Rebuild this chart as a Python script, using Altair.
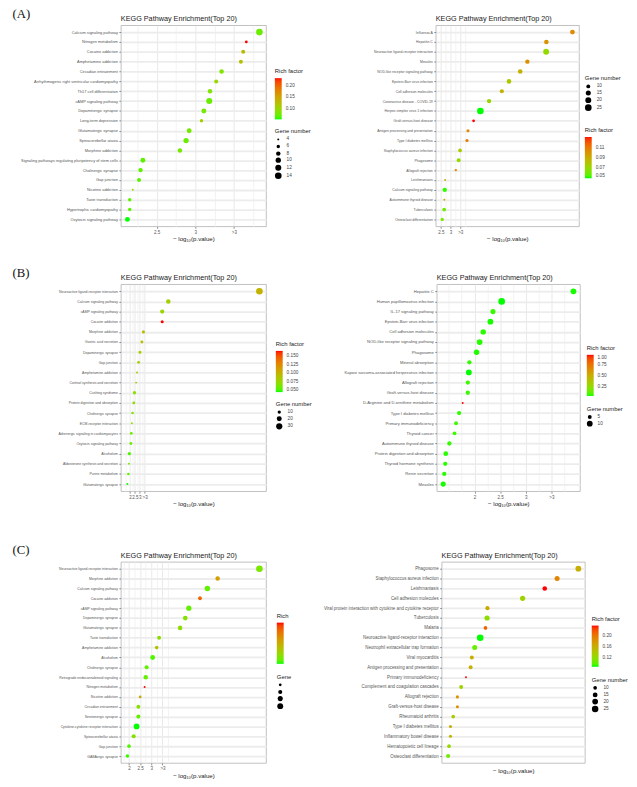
import altair as alt
import pandas as pd

# ---------------- (A) left ----------------
a1_path = ["Calcium signaling pathway", "Nitrogen metabolism", "Cocaine addiction", "Amphetamine addiction",
           "Circadian entrainment", "Arrhythmogenic right ventricular cardiomyopathy", "Th17 cell differentiation",
           "cAMP signaling pathway", "Dopaminergic synapse", "Long-term depression", "Glutamatergic synapse",
           "Spinocerebellar ataxia", "Morphine addiction", "Signaling pathways regulating pluripotency of stem cells",
           "Cholinergic synapse", "Gap junction", "Nicotine addiction", "Taste transduction",
           "Hypertrophic cardiomyopathy", "Oxytocin signaling pathway"]
a1_p = [3.83, 3.66, 3.62, 3.59, 3.34, 3.27, 3.19, 3.18, 3.11, 3.08, 2.92, 2.88, 2.80, 2.32, 2.29, 2.27, 2.19, 2.15, 2.15, 2.12]
a1_rich = [0.075, 0.234, 0.13, 0.125, 0.085, 0.10, 0.085, 0.075, 0.08, 0.11, 0.08, 0.075, 0.08, 0.07, 0.07, 0.07, 0.10, 0.07, 0.07, 0.055]
a1_gene = [14, 5, 7, 7, 8, 7, 8, 12, 9, 6, 9, 10, 8, 9, 8, 7, 4, 6, 6, 9]

# ---------------- (A) right ----------------
a2_path = ["Influenza A", "Hepatitis C", "Neuroactive ligand-receptor interaction", "Measles",
           "NOD-like receptor signaling pathway", "Epstein-Barr virus infection", "Cell adhesion molecules",
           "Coronavirus disease - COVID-19", "Herpes simplex virus 1 infection", "Graft-versus-host disease",
           "Antigen processing and presentation", "Type I diabetes mellitus", "Staphylococcus aureus infection",
           "Phagosome", "Allograft rejection", "Leishmaniasis", "Calcium signaling pathway",
           "Autoimmune thyroid disease", "Tuberculosis", "Osteoclast differentiation"]
a2_p = [9.3, 7.95, 7.94, 6.97, 6.6, 6.02, 5.65, 4.99, 4.54, 4.19, 3.9, 3.85, 3.49, 3.42, 3.27, 2.72, 2.7, 2.68, 2.67, 2.57]
a2_rich = [0.105, 0.102, 0.07, 0.103, 0.088, 0.078, 0.088, 0.072, 0.05, 0.133, 0.105, 0.112, 0.078, 0.07, 0.105, 0.09, 0.052, 0.09, 0.06, 0.062]
a2_gene = [14, 13, 20, 12, 13, 13, 11, 12, 25, 6, 7, 7, 9, 10, 5, 4, 12, 4, 9, 8]

# ---------------- (B) left ----------------
b1_path = ["Neuroactive ligand-receptor interaction", "Calcium signaling pathway", "cAMP signaling pathway",
           "Cocaine addiction", "Morphine addiction", "Gastric acid secretion", "Dopaminergic synapse", "Gap junction",
           "Amphetamine addiction", "Cortisol synthesis and secretion", "Cushing syndrome",
           "Protein digestion and absorption", "Cholinergic synapse", "ECM-receptor interaction",
           "Adrenergic signaling in cardiomyocytes", "Oxytocin signaling pathway", "Alcoholism",
           "Aldosterone synthesis and secretion", "Purine metabolism", "Glutamatergic synapse"]
b1_p = [15.38, 5.95, 5.32, 5.32, 3.38, 3.22, 3.02, 2.88, 2.72, 2.62, 2.45, 2.38, 2.25, 2.18, 2.12, 2.08, 1.92, 1.88, 1.82, 1.72]
b1_rich = [0.10, 0.08, 0.075, 0.165, 0.095, 0.092, 0.08, 0.08, 0.09, 0.088, 0.068, 0.07, 0.065, 0.07, 0.06, 0.06, 0.052, 0.062, 0.055, 0.045]
b1_gene = [34, 17, 15, 9, 9, 8, 9, 8, 5, 5, 10, 8, 7, 5, 8, 8, 10, 5, 7, 5]

# ---------------- (B) right ----------------
b2_path = ["Hepatitis C", "Human papillomavirus infection", "IL-17 signaling pathway", "Epstein-Barr virus infection",
           "Cell adhesion molecules", "NOD-like receptor signaling pathway", "Phagosome", "Mineral absorption",
           "Kaposi sarcoma-associated herpesvirus infection", "Allograft rejection", "Graft-versus-host disease",
           "D-Arginine and D-ornithine metabolism", "Type I diabetes mellitus", "Primary immunodeficiency",
           "Thyroid cancer", "Autoimmune thyroid disease", "Protein digestion and absorption",
           "Thyroid hormone synthesis", "Renin secretion", "Measles"]
b2_p = [3.93, 2.53, 2.36, 2.31, 2.17, 2.10, 2.04, 1.90, 1.89, 1.87, 1.87, 1.77, 1.70, 1.64, 1.61, 1.51, 1.44, 1.43, 1.41, 1.39]
b2_rich = [0.04, 0.035, 0.06, 0.04, 0.05, 0.05, 0.045, 0.06, 0.035, 0.07, 0.065, 1.0, 0.06, 0.07, 0.07, 0.06, 0.05, 0.05, 0.05, 0.04]
b2_gene = [10, 13, 8, 10, 9, 10, 9, 6, 10, 6, 6, 2, 6, 5, 5, 6, 7, 6, 6, 8]

# ---------------- (C) left ----------------
c1_path = ["Neuroactive ligand-receptor interaction", "Morphine addiction", "Calcium signaling pathway",
           "Cocaine addiction", "cAMP signaling pathway", "Dopaminergic synapse", "Glutamatergic synapse",
           "Taste transduction", "Amphetamine addiction", "Alcoholism", "Cholinergic synapse",
           "Retrograde endocannabinoid signaling", "Nitrogen metabolism", "Nicotine addiction",
           "Circadian entrainment", "Serotonergic synapse", "Cytokine-cytokine receptor interaction",
           "Spinocerebellar ataxia", "Gap junction", "GABAergic synapse"]
c1_p = [7.84, 5.97, 5.51, 5.18, 4.68, 4.52, 4.29, 3.35, 3.24, 3.06, 2.79, 2.75, 2.70, 2.50, 2.42, 2.42, 2.34, 2.21, 2.0, 1.93]
c1_rich = [0.085, 0.15, 0.075, 0.19, 0.075, 0.09, 0.095, 0.095, 0.12, 0.07, 0.075, 0.075, 0.22, 0.14, 0.09, 0.075, 0.06, 0.09, 0.07, 0.065]
c1_gene = [25, 12, 17, 9, 16, 13, 12, 9, 8, 14, 10, 12, 3, 5, 9, 10, 19, 10, 8, 8]

# ---------------- (C) right ----------------
c2_path = ["Phagosome", "Staphylococcus aureus infection", "Leishmaniasis", "Cell adhesion molecules",
           "Viral protein interaction with cytokine and cytokine receptor", "Tuberculosis", "Malaria",
           "Neuroactive ligand-receptor interaction", "Neutrophil extracellular trap formation", "Viral myocarditis",
           "Antigen processing and presentation", "Primary immunodeficiency", "Complement and coagulation cascades",
           "Allograft rejection", "Graft-versus-host disease", "Rheumatoid arthritis", "Type I diabetes mellitus",
           "Inflammatory bowel disease", "Hematopoietic cell lineage", "Osteoclast differentiation"]
c2_p = [14.0, 12.37, 11.42, 9.72, 7.02, 6.99, 6.87, 6.46, 6.04, 5.82, 5.73, 5.37, 5.0, 4.71, 4.71, 4.39, 4.18, 4.18, 4.07, 4.0]
c2_rich = [0.16, 0.19, 0.235, 0.13, 0.165, 0.12, 0.21, 0.09, 0.105, 0.16, 0.16, 0.235, 0.13, 0.18, 0.18, 0.135, 0.16, 0.155, 0.125, 0.11]
c2_gene = [20, 16, 14, 17, 12, 17, 10, 26, 16, 11, 11, 5, 11, 8, 8, 10, 8, 8, 10, 12]

TITLE = "KEGG Pathway Enrichment(Top 20)"
XTITLE = "\u2212 log\u2081\u2080(p.value)"
FONT = "Liberation Sans"


def label_expr(major):
    expr = "''"
    for v, lab in reversed(list(major.items())):
        expr = f"datum.value == {v} ? '{lab}' : ({expr})"
    return expr


def panel(paths, pvals, rich, genes, *, ylab, yext, major, minor, rich_vals, rich_fmt, gene_vals,
          cleg, gleg, height, width=148, rich_title="Rich factor", gene_title="Gene number", leg_labels=True,
          show_xaxis=True):
    df = pd.DataFrame({"path": paths, "p": pvals, "rich": rich, "gene": genes})
    lo, hi = min(pvals), max(pvals)
    pad = 0.05 * (hi - lo)
    maj_list = "[" + ",".join(str(v) for v in major) + "]"
    if show_xaxis:
        xaxis = alt.Axis(values=sorted(list(major) + list(minor)), labelExpr=label_expr(major),
                         grid=True,
                         gridColor={"condition": {"test": f"indexof({maj_list}, datum.value) >= 0",
                                                  "value": "#e3e3e3"}, "value": "#f0f0f0"},
                         gridWidth=0.8,
                         tickOpacity={"condition": {"test": f"indexof({maj_list}, datum.value) >= 0",
                                                    "value": 1}, "value": 0},
                         tickSize=2, tickColor="#444", tickWidth=0.6, domain=False,
                         labelFontSize=4.6, labelColor="#555", labelPadding=1, labelFont=FONT,
                         titleFontSize=6.2, titleFontWeight="normal", titleColor="#222", titlePadding=2,
                         titleFont=FONT)
    else:
        xaxis = alt.Axis(grid=False, ticks=False, labels=False, domain=False,
                         titleFontSize=6.2, titleFontWeight="normal", titleColor="#222", titlePadding=5,
                         titleFont=FONT)
    yaxis = alt.Axis(grid=True, gridColor="#ececec", gridWidth=1.8, domain=False, tickSize=2,
                     tickColor="#444", tickWidth=0.6, labelFontSize=ylab, labelColor="#555", labelPadding=1.5,
                     labelFont=FONT, labelLimit=400, minExtent=yext, maxExtent=yext)
    cl = dict(orient="none", legendX=cleg[0], legendY=cleg[1], direction="vertical", gradientLength=42,
              gradientThickness=7, values=rich_vals, format=rich_fmt, title=rich_title, titleFontSize=6.0,
              titleFontWeight="normal", titleColor="#222", titleFont=FONT, labelFontSize=4.8,
              labelColor="#444", labelFont=FONT, titlePadding=4, labelOffset=4, padding=0,
              gradientStrokeWidth=0)
    gl = dict(orient="none", legendX=gleg[0], legendY=gleg[1], values=gene_vals, title=gene_title,
              titleFontSize=6.0, titleFontWeight="normal", titleColor="#222", titleFont=FONT,
              labelFontSize=4.8, labelColor="#444", labelFont=FONT, titlePadding=3, labelOffset=5,
              symbolType="circle", symbolFillColor="black", symbolStrokeWidth=0, symbolOpacity=1,
              rowPadding=1.2, padding=0)
    if not leg_labels:
        cl["labelOpacity"] = 0
        gl["labelOpacity"] = 0
    chart = alt.Chart(df).mark_circle(opacity=1, stroke=None).encode(
        x=alt.X("p:Q", title=XTITLE, axis=xaxis,
                scale=alt.Scale(domain=[lo - pad, hi + pad], nice=False, zero=False)),
        y=alt.Y("path:N", title=None, sort=paths, axis=yaxis, scale=alt.Scale(padding=0.7)),
        color=alt.Color("rich:Q", legend=alt.Legend(**cl),
                        scale=alt.Scale(domain=[min(rich), max(rich)], range=["#00ff00", "#ff0000"],
                                        interpolate="lab")),
        size=alt.Size("gene:Q", legend=alt.Legend(**gl),
                      scale=alt.Scale(domain=[min(genes), max(genes)], range=[4, 46], zero=False)),
    ).properties(width=width, height=height,
                 title=alt.TitleParams(TITLE, anchor="start", frame="group", fontSize=7.4,
                                       fontWeight="normal", color="#222", font=FONT, offset=3))
    return chart


def resolve(c):
    return c.resolve_scale(x="independent", y="independent", color="independent",
                           size="independent").resolve_legend(color="independent", size="independent")


def row_title(t):
    return alt.TitleParams(t, anchor="start", frame="bounds", fontSize=13, font="Liberation Serif",
                           fontWeight="normal", color="#111", offset=-6, dx=4)


pA1 = panel(a1_path, a1_p, a1_rich, a1_gene, ylab=4.0, yext=114,
            major={2.5: "2.5", 3: "3", 3.5: ">3"}, minor=[2.25, 2.75, 3.25, 3.75],
            rich_vals=[0.10, 0.15, 0.20], rich_fmt=".2f", gene_vals=[4, 6, 8, 10, 12, 14],
            cleg=(157, 44), gleg=(157, 105), height=205)
pA2 = panel(a2_path, a2_p, a2_rich, a2_gene, ylab=3.5, yext=100, width=146,
            major={2.5: "2.5", 3: "3", 3.5: ">3"}, minor=[2.75, 3.25, 3.75],
            rich_vals=[0.05, 0.07, 0.09, 0.11], rich_fmt=".2f", gene_vals=[10, 15, 20, 25],
            cleg=(152, 104), gleg=(152, 51), height=205)
pB1 = panel(b1_path, b1_p, b1_rich, b1_gene, ylab=3.5, yext=114,
            major={1: "1", 2: "2", 2.5: "2.5", 3: "3", 3.5: ">3"}, minor=[1.5, 2.25, 2.75, 3.25],
            rich_vals=[0.05, 0.075, 0.1, 0.125, 0.15], rich_fmt=".3f", gene_vals=[10, 20, 30],
            cleg=(158, 58), gleg=(158, 119), height=211)
pB2 = panel(b2_path, b2_p, b2_rich, b2_gene, ylab=4.2, yext=100, width=146,
            major={2: "2", 2.5: "2.5", 3: "3", 3.5: ">3"}, minor=[1.5, 1.75, 2.25, 2.75, 3.25, 3.75],
            rich_vals=[0.25, 0.5, 0.75, 1.0], rich_fmt=".2f", gene_vals=[5, 10],
            cleg=(153, 62), gleg=(153, 124), height=211)
pC1 = panel(c1_path, c1_p, c1_rich, c1_gene, ylab=3.5, yext=114,
            major={2: "2", 2.5: "2.5", 3: "3", 3.5: ">3"}, minor=[1.75, 2.25, 2.75, 3.25, 3.75],
            rich_vals=[0.08, 0.12, 0.16, 0.20], rich_fmt=".2f", gene_vals=[5, 10, 15, 20],
            cleg=(159, 52), gleg=(159, 114), height=205, rich_title="Rich", gene_title="Gene",
            leg_labels=False)
pC2 = panel(c2_path, c2_p, c2_rich, c2_gene, ylab=4.5, yext=100, width=146,
            major={}, minor=[], rich_vals=[0.12, 0.16, 0.20], rich_fmt=".2f", gene_vals=[10, 15, 20, 25],
            cleg=(153, 55), gleg=(153, 117), height=205, show_xaxis=False)

rowA = resolve(alt.hconcat(pA1, pA2, spacing=25, title=row_title("(A)")))
rowB = resolve(alt.hconcat(pB1, pB2, spacing=25, title=row_title("(B)")))
rowC = resolve(alt.hconcat(pC1, pC2, spacing=24, title=row_title("(C)")))

chart = resolve(alt.vconcat(rowA, resolve(alt.vconcat(rowB, rowC, spacing=37)), spacing=24))
chart = chart.properties(padding={"top": -8, "bottom": 0, "left": 0, "right": 0},
                         background="white").configure_view(stroke="#b0b0b0", strokeWidth=0.8)

chart.save("out.html", embed_options={"renderer": "svg", "actions": False})
